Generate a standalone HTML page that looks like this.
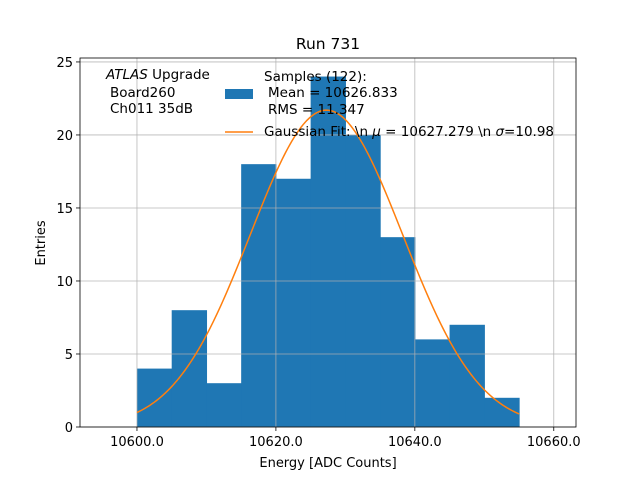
<!DOCTYPE html>
<html><head><meta charset="utf-8"><style>
html,body{margin:0;padding:0;background:#fff;}
svg text{font-family:"DejaVu Sans","Liberation Sans",sans-serif;}
</style></head><body>
<svg id="chart" width="640" height="480" xmlns="http://www.w3.org/2000/svg">
<rect width="640" height="480" fill="#fff"/>
<g id="bars"></g><g id="grid"></g><g id="curve"></g><g id="axes"></g>
</svg>
<script>
const binEdges=[10600,10605,10610,10615,10620,10625,10630,10635,10640,10645,10650,10655];
const counts=[4,8,3,18,17,24,20,13,6,7,2];
const xTicks=[10600,10620,10640,10660];
const xTickLabels=["10600.0","10620.0","10640.0","10660.0"];
const yTicks=[0,5,10,15,20,25];
const fitMean=[10627.279];
const fitSigma=[10.98];
const fitAmp=[21.7];

const L=80,R=576,T=58,B=427;
const xMin=10591.8,xMax=10663.2,yMin=0,yMax=25.27;
const X=v=>L+(v-xMin)/(xMax-xMin)*(R-L);
const Y=v=>B-(v-yMin)/(yMax-yMin)*(B-T);
const NS="http://www.w3.org/2000/svg";
function mk(tag,attrs,parent){const e=document.createElementNS(NS,tag);for(const k in attrs)e.setAttribute(k,attrs[k]);parent.appendChild(e);return e;}
const gb=document.getElementById('bars'),gg=document.getElementById('grid'),gc=document.getElementById('curve'),ga=document.getElementById('axes');

counts.forEach((c,i)=>{
  const x0=X(binEdges[i]),x1=X(binEdges[i+1]);
  const r=mk('rect',{x:x0,y:Y(c),width:x1-x0+0.6,height:Y(0)-Y(c),fill:'#1f77b4'},gb);
  
  
});
xTicks.forEach((t,i)=>{
  const x=X(t);
  const l=mk('line',{x1:x,x2:x,y1:T,y2:B,stroke:'#b0b0b0','stroke-width':0.8,'stroke-opacity':0.9},gg);
  
  
  mk('line',{x1:x,x2:x,y1:B,y2:B+4,stroke:'#000','stroke-width':0.8},ga);
  const tx=mk('text',{x:x,y:B+19,'text-anchor':'middle','font-size':13},ga);
  tx.textContent=xTickLabels[i];
  
  
});
yTicks.forEach(t=>{
  const y=Y(t);
  const l=mk('line',{x1:L,x2:R,y1:y,y2:y,stroke:'#b0b0b0','stroke-width':0.8,'stroke-opacity':0.9},gg);
  
  
  mk('line',{x1:L-4,x2:L,y1:y,y2:y,stroke:'#000','stroke-width':0.8},ga);
  const tx=mk('text',{x:L-7,y:y+5,'text-anchor':'end','font-size':13},ga);
  tx.textContent=String(t);
  
  
});
let pts=[];
const a=binEdges[0],b=binEdges[binEdges.length-1];
for(let i=0;i<=200;i++){const v=a+(b-a)*i/200;const f=fitAmp[0]*Math.exp(-Math.pow(v-fitMean[0],2)/(2*fitSigma[0]*fitSigma[0]));pts.push(X(v).toFixed(2)+','+Y(f).toFixed(2));}
const pl=mk('polyline',{points:pts.join(' '),fill:'none',stroke:'#ff7f0e','stroke-width':1.5},gc);


const frame=mk('rect',{x:L,y:T,width:R-L,height:B-T,fill:'none',stroke:'#000','stroke-width':0.8},ga);


</script>
<svg style="position:absolute;left:0;top:0" width="640" height="480" xmlns="http://www.w3.org/2000/svg">
<text x="328" y="49" text-anchor="middle" font-size="15.5">Run 731</text>
<text x="328" y="467" text-anchor="middle" font-size="13">Energy [ADC Counts]</text>
<text x="45" y="243" text-anchor="middle" font-size="13" transform="rotate(-90 45 243)">Entries</text>
<g font-size="13.5">
<text x="106" y="79"><tspan font-style="italic">ATLAS</tspan> Upgrade</text>
<text x="110" y="97">Board260</text>
<text x="110" y="113">Ch011 35dB</text>
</g>
<g font-size="13.5">
<rect x="225" y="89" width="28" height="10" fill="#1f77b4"/>
<text x="264" y="81">Samples (122):</text>
<text x="268" y="97">Mean = 10626.833</text>
<text x="268" y="114">RMS = 11.347</text>
<line x1="225" y1="132" x2="253" y2="132" stroke="#ff7f0e" stroke-width="1.5"/>
<text x="264" y="136">Gaussian Fit: \n <tspan font-style="italic">μ</tspan> = 10627.279 \n <tspan font-style="italic">σ</tspan>=10.98</text>
</g>
</svg>
</body></html>
